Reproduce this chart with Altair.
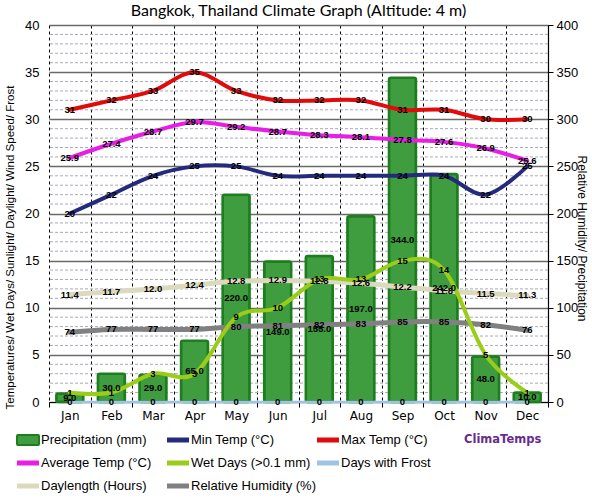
import altair as alt
import pandas as pd

# Monthly climate normals for Bangkok
months = ["Jan", "Feb", "Mar", "Apr", "May", "Jun", "Jul", "Aug", "Sep", "Oct", "Nov", "Dec"]
precipitation = [9.0, 30.0, 29.0, 65.0, 220.0, 149.0, 155.0, 197.0, 344.0, 242.0, 48.0, 10.0]
min_temp = [20, 22, 24, 25, 25, 24, 24, 24, 24, 24, 22, 25]
max_temp = [31, 32, 33, 35, 33, 32, 32, 32, 31, 31, 30, 30]
avg_temp = [25.9, 27.4, 28.7, 29.7, 29.2, 28.7, 28.3, 28.1, 27.8, 27.6, 26.9, 25.6]
wet_days = [1, 1, 3, 3, 9, 10, 13, 13, 15, 14, 5, 1]
frost_days = [0, 0, 0, 0, 0, 0, 0, 0, 0, 0, 0, 0]
daylength = [11.4, 11.7, 12.0, 12.4, 12.8, 12.9, 12.8, 12.6, 12.2, 11.8, 11.5, 11.3]
humidity = [74, 77, 77, 77, 80, 81, 82, 83, 85, 85, 82, 76]

# Legend entries, laid out three per row
legend_names = ["Precipitation (mm)", "Min Temp (°C)", "Max Temp (°C)",
                "Average Temp (°C)", "Wet Days (>0.1 mm)", "Days with Frost",
                "Daylength (Hours)", "Relative Humidity (%)"]
legend_colors = ["#3f9c3f", "#262a7c", "#e00c0c",
                 "#e61ee6", "#9acd1a", "#9dc3e6",
                 "#dcdabd", "#808080"]

left_ticks = list(range(0, 41, 5))
right_ticks = list(range(0, 401, 50))
minor_lines = [v for v in range(1, 40) if v % 5 != 0]

df = pd.DataFrame({
    "month": months,
    "precip": precipitation,
    "min_temp": min_temp,
    "max_temp": max_temp,
    "avg_temp": avg_temp,
    "wet_days": wet_days,
    "frost": frost_days,
    "daylength": daylength,
    "humidity": humidity,
})

FONT = "Liberation Sans"
yL = alt.Scale(domain=[0, 40], nice=False, zero=True)
yR = alt.Scale(domain=[0, 400], nice=False, zero=True)
x_scale = alt.Scale(domain=months, type="band", paddingInner=0, paddingOuter=0)
x_plain = alt.X("month:N", scale=x_scale, axis=None, title=None)

base = alt.Chart(df)

# Dashed minor gridlines every unit, with the left axis carrying the solid major grid
minor = alt.Chart(pd.DataFrame({"v": minor_lines})).mark_rule(
    color="#a9a9bd", strokeWidth=1, strokeDash=[3, 2]
).encode(
    y=alt.Y("v:Q", scale=yL, axis=alt.Axis(
        orient="left", values=left_ticks, grid=True, gridColor="#6a6a6a", gridWidth=1.3,
        ticks=False, domain=False, labelFont=FONT, labelFontSize=13, labelColor="black",
        labelPadding=10,
        title="Temperatures/ Wet Days/ Sunlight/ Daylight/ Wind Speed/ Frost",
        titleFont=FONT, titleFontSize=11.5, titleFontWeight="normal", titleColor="black",
        titlePadding=9, titleY=222,
    ))
)

bars = base.mark_bar(
    size=27, fill="#3f9c3f", stroke="#1e7d1e", strokeWidth=2.5, cornerRadius=2
).encode(
    x=alt.X("month:N", scale=x_scale, title=None, axis=alt.Axis(
        tickBand="extent", grid=True, gridColor="black", gridDash=[3, 3], gridWidth=1,
        ticks=True, tickColor="black", tickSize=5, domainColor="black", domainWidth=1.2,
        labelAngle=0, labelFont="DejaVu Sans", labelFontSize=12, labelColor="black",
        labelPadding=3,
    )),
    y=alt.Y("precip:Q", scale=yR, axis=alt.Axis(
        orient="right", values=right_ticks, grid=False, ticks=True, tickSize=5,
        tickColor="black", domainColor="black", domainWidth=1.2,
        labelFont=FONT, labelFontSize=13, labelColor="black", labelPadding=3,
        title="Relative Humidity/ Precipitation", titleFont=FONT, titleFontSize=12,
        titleFontWeight="normal", titleColor="black", titlePadding=-3, titleY=213,
    )),
)

# (field, colour, stroke width, scale, label format)
series = [
    ("daylength", "#dcdabd", 5, yL, ".1f"),
    ("humidity", "#808080", 5, yR, "d"),
    ("wet_days", "#9acd1a", 4, yL, "d"),
    ("min_temp", "#262a7c", 4, yL, "d"),
    ("avg_temp", "#e61ee6", 4, yL, ".1f"),
    ("max_temp", "#e00c0c", 4, yL, "d"),
    ("frost", "#9dc3e6", 2.5, yL, "d"),
]

lines = []
labels = []
for field, color, width, scale, fmt in series:
    lines.append(base.mark_line(
        color=color, strokeWidth=width, interpolate="cardinal", strokeCap="round"
    ).encode(x=x_plain, y=alt.Y(f"{field}:Q", scale=scale, axis=None)))
    labels.append(base.mark_text(
        font=FONT, fontSize=9.5, fontWeight="bold", color="black", baseline="middle"
    ).encode(
        x=x_plain,
        y=alt.Y(f"{field}:Q", scale=scale, axis=None),
        text=alt.Text(f"{field}:Q", format=fmt),
    ))

precip_labels = base.transform_calculate(mid="datum.precip / 2").mark_text(
    font=FONT, fontSize=9.5, fontWeight="bold", color="black", baseline="middle"
).encode(
    x=x_plain,
    y=alt.Y("mid:Q", scale=yR, axis=None),
    text=alt.Text("precip:Q", format=".1f"),
)

# Legend below the plot
leg_df = pd.DataFrame({
    "name": legend_names,
    "color": legend_colors,
    "col": [i % 3 for i in range(len(legend_names))],
    "row": [i // 3 for i in range(len(legend_names))],
})
leg_x = alt.Scale(domain=[0, 3], range=[-32, 418])
leg_y = alt.Scale(domain=[0, 2], range=[415, 461])
leg_base = alt.Chart(leg_df)

leg_rect = leg_base.transform_filter("datum.row == 0 && datum.col == 0").mark_rect(
    fill="#3f9c3f", stroke="#1e7d1e", strokeWidth=2, x2Offset=22, yOffset=-5, y2Offset=5,
    cornerRadius=1,
).encode(
    x=alt.X("col:Q", scale=leg_x, axis=None), x2="col:Q",
    y=alt.Y("row:Q", scale=leg_y, axis=None), y2="row:Q",
)
leg_rule = leg_base.transform_filter("!(datum.row == 0 && datum.col == 0)").mark_rule(
    strokeWidth=5, x2Offset=22
).encode(
    x=alt.X("col:Q", scale=leg_x, axis=None), x2="col:Q",
    y=alt.Y("row:Q", scale=leg_y, axis=None),
    color=alt.Color("color:N", scale=None),
)
leg_text = leg_base.mark_text(
    align="left", baseline="middle", dx=24, font=FONT, fontSize=13, color="black"
).encode(
    x=alt.X("col:Q", scale=leg_x, axis=None),
    y=alt.Y("row:Q", scale=leg_y, axis=None),
    text="name:N",
)
brand = alt.Chart(pd.DataFrame({"col": [3], "row": [0], "label": ["ClimaTemps"]})).mark_text(
    align="left", baseline="middle", dx=-3, font="DejaVu Sans", fontSize=11.5,
    fontWeight="bold", color="#6a2c8c"
).encode(
    x=alt.X("col:Q", scale=leg_x, axis=None),
    y=alt.Y("row:Q", scale=leg_y, axis=None),
    text="label:N",
)

chart = alt.layer(
    minor, bars, *lines, *labels, precip_labels, leg_rect, leg_rule, leg_text, brand
).resolve_scale(
    x="independent", y="independent"
).properties(
    width=499,
    height=377,
    title=alt.TitleParams(
        "Bangkok, Thailand Climate Graph (Altitude: 4 m)",
        font="Lato", fontSize=16, fontWeight="normal", color="black", offset=0,
    ),
    padding={"left": 4, "top": 3, "right": 0, "bottom": 0},
    background="white",
).configure_view(stroke=None)

chart.save("out.html", embed_options={"renderer": "svg", "actions": False})
